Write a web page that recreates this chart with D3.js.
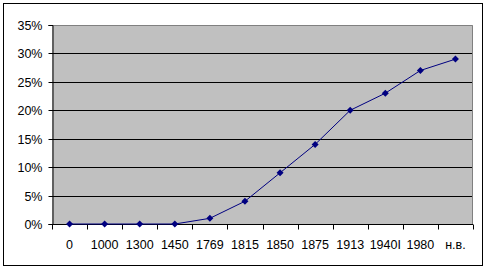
<!DOCTYPE html>
<html>
<head>
<meta charset="utf-8">
<script src="https://cdn.jsdelivr.net/npm/d3@7"></script>
<style>
  body { margin: 0; background: #fff; }
  svg { display: block; }
</style>
</head>
<body>
<div id="chart"></div>
<script>
// chart data
const categories = ["0", "1000", "1300", "1450", "1769", "1815", "1850", "1875", "1913", "1940I", "1980", "н.в."];
const values = [0, 0, 0, 0, 1, 4, 9, 14, 20, 23, 27, 29];
const yTicks = [0, 5, 10, 15, 20, 25, 30, 35];

const width = 487;
const height = 271;
const plot = { left: 52, top: 25, right: 473, bottom: 224 };
const fontSize = "12.5px";
const fontFamily = "'Liberation Sans', Arial, sans-serif";

const svg = d3.select("#chart").append("svg")
  .attr("width", width)
  .attr("height", height)
  .style("font-family", fontFamily)
  .style("font-size", fontSize);

// outer frame
svg.append("rect")
  .attr("x", 3.5).attr("y", 3.5)
  .attr("width", 479).attr("height", 262)
  .attr("fill", "#fff").attr("stroke", "#000");

const x = d3.scaleBand().domain(categories).range([plot.left, plot.right]);
const y = d3.scaleLinear().domain([0, 35]).range([plot.bottom, plot.top]);

// plot area
svg.append("rect")
  .attr("x", plot.left).attr("y", plot.top)
  .attr("width", plot.right - plot.left).attr("height", plot.bottom - plot.top)
  .attr("fill", "#c0c0c0");

// gridlines
svg.append("g")
  .selectAll("line")
  .data(yTicks.filter(d => d > 0 && d < 35))
  .enter()
  .append("line")
  .attr("x1", plot.left).attr("x2", plot.right)
  .attr("y1", d => Math.round(y(d)) + 0.5)
  .attr("y2", d => Math.round(y(d)) + 0.5)
  .attr("stroke", "#000");

// top and right border of plot in grey
svg.append("path")
  .attr("d", `M${plot.left},${plot.top + 0.5}H${plot.right - 0.5}V${plot.bottom}`)
  .attr("fill", "none").attr("stroke", "#808080");

// y axis
const yAxis = svg.append("g")
  .attr("transform", `translate(${plot.left + 0.5},0)`)
  .call(d3.axisLeft(y).tickValues(yTicks).tickSize(4).tickPadding(6).tickFormat(d => d + "%"));
yAxis.selectAll("text").attr("fill", "#000").style("font-size", fontSize).style("font-family", fontFamily);
yAxis.select(".domain").attr("stroke", "#000");
yAxis.selectAll(".tick line").attr("stroke", "#000");
yAxis.selectAll(".tick").attr("transform", d => `translate(0,${Math.round(y(d)) + 0.5})`);

// x axis with ticks at category boundaries
const xg = svg.append("g").attr("transform", `translate(0,${plot.bottom + 0.5})`);
xg.append("line")
  .attr("x1", plot.left).attr("x2", plot.right)
  .attr("stroke", "#000");
const bounds = categories.map(c => x(c)).concat([plot.right]);
xg.selectAll("line.tick")
  .data(bounds)
  .enter()
  .append("line")
  .attr("class", "tick")
  .attr("x1", d => Math.round(d) + 0.5).attr("x2", d => Math.round(d) + 0.5)
  .attr("y1", 0).attr("y2", 5)
  .attr("stroke", "#000");
xg.selectAll("text")
  .data(categories)
  .enter()
  .append("text")
  .attr("x", d => x(d) + x.bandwidth() / 2)
  .attr("y", 24.5)
  .attr("text-anchor", "middle")
  .attr("fill", "#000")
  .text(d => d);

// line series
const line = d3.line()
  .x((d, i) => x(categories[i]) + x.bandwidth() / 2)
  .y(d => y(d));

svg.append("path")
  .datum(values)
  .attr("d", line)
  .attr("fill", "none")
  .attr("stroke", "#000080")
  .attr("stroke-width", 1);

// diamond markers
svg.selectAll("path.marker")
  .data(values)
  .enter()
  .append("path")
  .attr("class", "marker")
  .attr("transform", (d, i) => `translate(${x(categories[i]) + x.bandwidth() / 2},${y(d)})`)
  .attr("d", "M0,-3.5L3.5,0L0,3.5L-3.5,0Z")
  .attr("fill", "#000080");
</script>
</body>
</html>
